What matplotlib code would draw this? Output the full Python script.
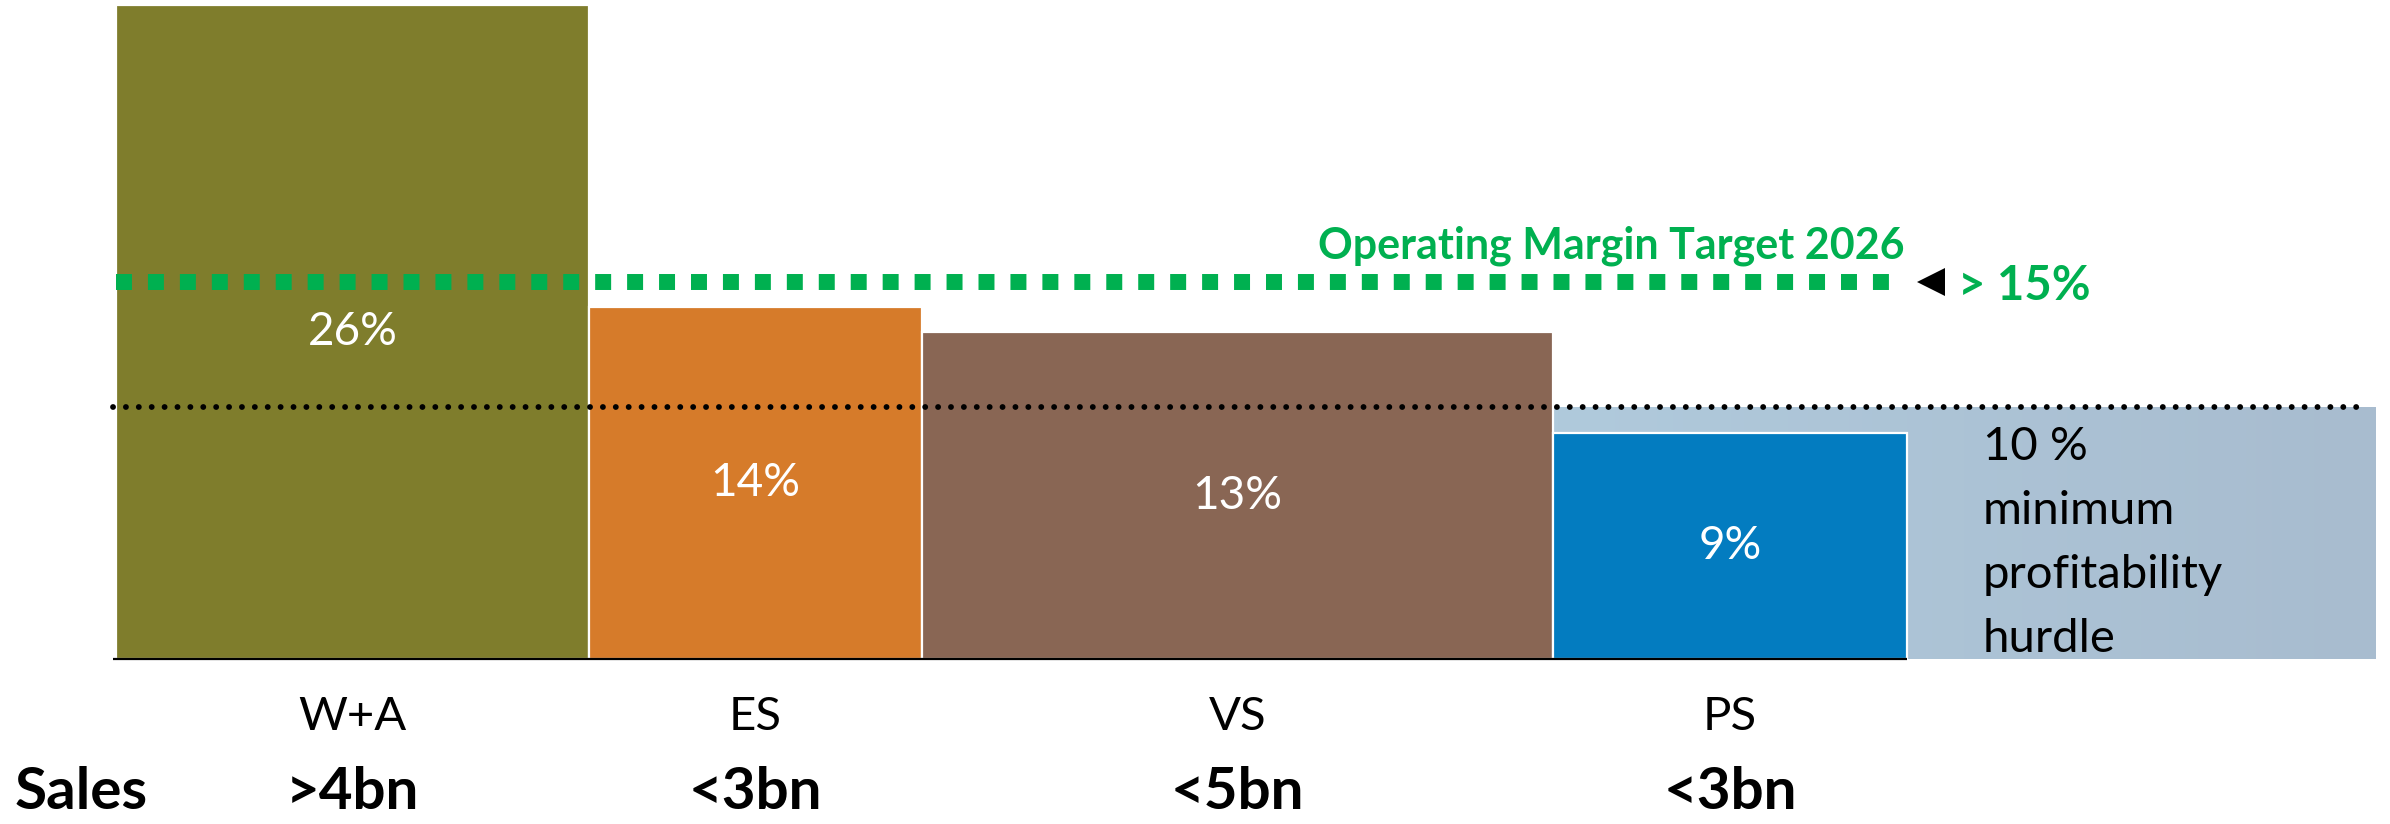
import matplotlib
matplotlib.use("Agg")
import matplotlib.pyplot as plt
import matplotlib.transforms as mtransforms
from matplotlib.colors import LinearSegmentedColormap
import numpy as np

plt.rcParams["font.family"] = ["Lato", "DejaVu Sans"]

# Segment data
segments = ["W+A", "ES", "VS", "PS"]
margin_pct = [26, 14, 13, 9]                 # operating margin, %
seg_width = [4.73, 3.33, 6.31, 3.54]         # bar widths (relative sales volume)
sales_labels = [">4bn", "<3bn", "<5bn", "<3bn"]
seg_colors = ["#7f7d2c", "#d67b2a", "#896654", "#037cc0"]

target_pct = 15          # operating margin target 2026
hurdle_pct = 10          # minimum profitability hurdle
hurdle_right = 22.6      # right end of the hurdle band
hurdle_lines = [f"{hurdle_pct} %", "minimum", "profitability", "hurdle"]

W, H = 2390, 824
fig = plt.figure(figsize=(W / 100, H / 100), dpi=100)
ax = fig.add_axes([116 / W, (H - 659) / H, (2376 - 116) / W, 659 / H])
ax.set_xlim(0, 22.6)
ax.set_ylim(0, 26.2)
ax.axis("off")

lefts = np.concatenate([[0], np.cumsum(seg_width)[:-1]])
rights = lefts + np.array(seg_width)

# x in data units, y in figure pixels from the top
trans = mtransforms.blended_transform_factory(ax.transData, fig.transFigure)


def fig_y(px):
    return 1 - px / H


# Hurdle band with a soft horizontal gradient
band_cmap = LinearSegmentedColormap.from_list("band", ["#b0cadc", "#a8bccf"])
ax.imshow(np.linspace(0, 1, 256).reshape(1, -1), cmap=band_cmap, aspect="auto",
          extent=[rights[2], hurdle_right, -0.08, hurdle_pct], zorder=1,
          interpolation="bilinear")

# Segment bars
ax.bar(lefts, margin_pct, width=seg_width, align="edge", color=seg_colors,
       edgecolor="white", linewidth=1.6, zorder=2)

# Value labels inside bars
for l, w, v in zip(lefts, seg_width, margin_pct):
    ax.text(l + w / 2, v / 2, f"{v}%", ha="center", va="center",
            color="white", fontsize=33, zorder=5)

# Baseline under the bars
ax.plot([-0.03, rights[-1]], [0, 0], color="black", lw=1.6,
        solid_capstyle="butt", clip_on=False, zorder=4)

# Minimum profitability hurdle (black dotted)
ax.plot([-0.03, hurdle_right - 0.08], [hurdle_pct, hurdle_pct], color="black",
        lw=4.2, linestyle=(0, (0.01, 2.2)), dash_capstyle="round",
        clip_on=False, zorder=4)

# Operating margin target (green squares)
green = "#00b050"
ax.plot([0, 17.76], [target_pct, target_pct], color=green, lw=11.5,
        linestyle=(0, (1, 1)), dash_capstyle="butt", zorder=4)
ax.text(17.88, target_pct + 0.93, "Operating Margin Target 2026", ha="right",
        va="baseline", color=green, fontsize=31, fontweight="bold", zorder=5)
ax.plot([18.15], [target_pct], marker="<", ms=20, color="black",
        markeredgewidth=0, zorder=5)
ax.text(18.42, target_pct - 0.72, f"> {target_pct}%", ha="left", va="baseline",
        color=green, fontsize=34, fontweight="bold", zorder=5)

# Hurdle annotation, one line per baseline
for i, line in enumerate(hurdle_lines):
    ax.text(18.67, fig_y(460 + 64 * i), line, transform=trans, ha="left",
            va="baseline", color="black", fontsize=34, zorder=5)

# Category and sales rows below the axis
for l, w, name, s in zip(lefts, seg_width, segments, sales_labels):
    cx = l + w / 2
    ax.text(cx, fig_y(730), name, transform=trans, ha="center",
            va="baseline", fontsize=34, color="black")
    ax.text(cx, fig_y(809), s, transform=trans, ha="center",
            va="baseline", fontsize=42, fontweight="bold", color="black")

fig.text(15 / W, fig_y(809), "Sales", ha="left", va="baseline",
         fontsize=42, fontweight="bold", color="black")

fig.savefig("out.png", dpi=100)
